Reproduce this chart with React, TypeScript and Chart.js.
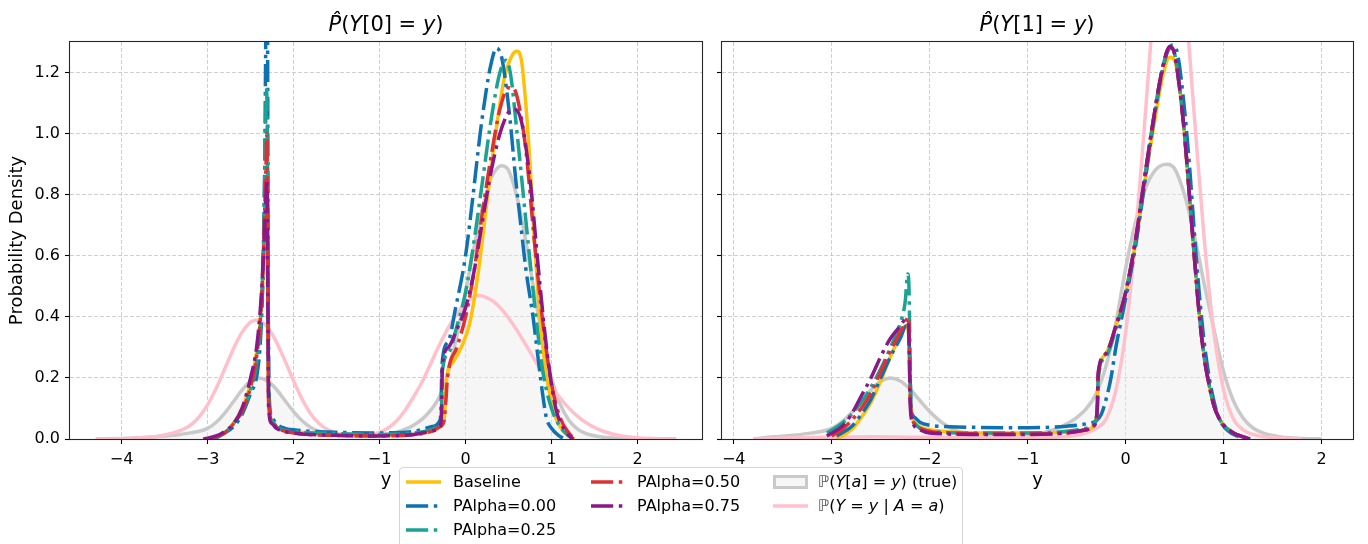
import React, { useEffect, useRef } from 'react';
import { Chart, registerables } from 'chart.js';

Chart.register(...registerables);

const FONT = "'DejaVu Sans', 'Liberation Sans', sans-serif";

// ---- axis ticks ----
const X_TICKS = [-4, -3, -2, -1, 0, 1, 2];
const Y_TICKS = [0, 0.2, 0.4, 0.6, 0.8, 1.0, 1.2];

// ---- series labels ----
const SERIES_LABELS = ['Baseline', 'PAlpha=0.00', 'PAlpha=0.25', 'PAlpha=0.50', 'PAlpha=0.75'];

// ---- true density P(Y[a]=y) ----
const true0X = [-4.3, -4.0, -3.8, -3.6, -3.4, -3.2, -3.0, -2.9, -2.8, -2.7, -2.6, -2.5, -2.4, -2.3, -2.2, -2.1, -2.0, -1.9, -1.8, -1.7, -1.6, -1.5, -1.3, -1.1, -0.9, -0.8, -0.7, -0.6, -0.5, -0.4, -0.3, -0.2, -0.1, 0.0, 0.1, 0.2, 0.3, 0.42, 0.5, 0.6, 0.7, 0.8, 0.9, 1.0, 1.1, 1.2, 1.3, 1.4, 1.6, 1.8, 2.0, 2.2, 2.45];
const true0Y = [0.0, 0.002, 0.004, 0.007, 0.012, 0.02, 0.035, 0.055, 0.085, 0.122, 0.16, 0.189, 0.2, 0.19, 0.163, 0.126, 0.09, 0.06, 0.038, 0.024, 0.016, 0.011, 0.009, 0.011, 0.016, 0.022, 0.032, 0.046, 0.066, 0.096, 0.14, 0.22, 0.34, 0.48, 0.63, 0.76, 0.855, 0.895, 0.88, 0.79, 0.65, 0.48, 0.33, 0.2, 0.115, 0.062, 0.033, 0.018, 0.006, 0.002, 0.0008, 0.0003, 0.0];
const true1X = [-3.8, -3.6, -3.4, -3.2, -3.0, -2.9, -2.8, -2.7, -2.6, -2.5, -2.4, -2.3, -2.2, -2.1, -2.0, -1.9, -1.8, -1.7, -1.6, -1.5, -1.3, -1.1, -0.9, -0.8, -0.7, -0.6, -0.5, -0.4, -0.3, -0.2, -0.1, 0.0, 0.1, 0.2, 0.3, 0.42, 0.5, 0.6, 0.7, 0.8, 0.9, 1.0, 1.1, 1.2, 1.3, 1.4, 1.6, 1.8, 2.0];
const true1Y = [0.0, 0.007, 0.012, 0.02, 0.035, 0.055, 0.085, 0.122, 0.16, 0.189, 0.2, 0.19, 0.163, 0.126, 0.09, 0.06, 0.038, 0.024, 0.016, 0.011, 0.009, 0.011, 0.017, 0.024, 0.035, 0.05, 0.07, 0.1, 0.15, 0.24, 0.38, 0.56, 0.71, 0.82, 0.88, 0.9, 0.885, 0.8, 0.67, 0.51, 0.36, 0.22, 0.125, 0.068, 0.036, 0.02, 0.006, 0.002, 0.0];

// ---- observed conditional P(Y=y | A=a) ----
const pink0X = [-4.3, -4.0, -3.8, -3.6, -3.4, -3.3, -3.2, -3.1, -3.0, -2.9, -2.8, -2.7, -2.6, -2.5, -2.43, -2.3, -2.2, -2.1, -2.0, -1.9, -1.8, -1.7, -1.6, -1.5, -1.4, -1.3, -1.2, -1.1, -1.0, -0.9, -0.8, -0.7, -0.6, -0.5, -0.4, -0.3, -0.2, -0.1, 0.0, 0.15, 0.3, 0.4, 0.5, 0.6, 0.7, 0.8, 0.9, 1.0, 1.1, 1.2, 1.3, 1.4, 1.5, 1.6, 1.8, 2.0, 2.2, 2.45];
const pink0Y = [0.0, 0.001, 0.003, 0.008, 0.02, 0.03, 0.045, 0.072, 0.112, 0.166, 0.23, 0.295, 0.349, 0.383, 0.39, 0.365, 0.318, 0.256, 0.191, 0.13, 0.082, 0.05, 0.03, 0.019, 0.013, 0.011, 0.011, 0.014, 0.022, 0.036, 0.06, 0.095, 0.14, 0.19, 0.25, 0.31, 0.365, 0.41, 0.445, 0.47, 0.455, 0.431, 0.396, 0.355, 0.309, 0.261, 0.215, 0.172, 0.134, 0.102, 0.075, 0.054, 0.0375, 0.0254, 0.0107, 0.0041, 0.0014, 0.0];
const pink1X = [-3.8, -3.4, -3.0, -2.6, -2.2, -1.8, -1.4, -1.0, -0.7, -0.5, -0.4, -0.3, -0.2, -0.1, 0.0, 0.1, 0.2, 0.3, 0.45, 0.6, 0.7, 0.8, 0.9, 1.0, 1.1, 1.2, 1.3, 1.4, 1.6, 1.8];
const pink1Y = [0.0, 0.004, 0.006, 0.007, 0.006, 0.005, 0.004, 0.004, 0.006, 0.012, 0.02, 0.035, 0.065, 0.16, 0.35, 0.66, 1.06, 1.46, 1.75, 1.46, 1.06, 0.66, 0.35, 0.16, 0.065, 0.03, 0.015, 0.008, 0.003, 0.0];

// ---- estimated densities, Y[0] ----
const base0X = [-2.95, -2.8, -2.7, -2.6, -2.5, -2.45, -2.4, -2.36, -2.33, -2.31, -2.3, -2.29, -2.25, -2.2, -2.1, -2.0, -1.8, -1.5, -1.0, -0.6, -0.4, -0.3, -0.25, -0.235, -0.22, -0.15, -0.05, 0.05, 0.15, 0.25, 0.35, 0.45, 0.55, 0.6, 0.65, 0.7, 0.75, 0.8, 0.85, 0.9, 0.95, 1.0, 1.05, 1.1, 1.2, 1.27];
const base0Y = [0.0, 0.02, 0.05, 0.1, 0.18, 0.25, 0.35, 0.5, 0.68, 0.72, 0.4, 0.12, 0.06, 0.04, 0.03, 0.025, 0.02, 0.015, 0.012, 0.015, 0.025, 0.04, 0.06, 0.12, 0.2, 0.25, 0.3, 0.38, 0.55, 0.78, 1.0, 1.18, 1.26, 1.27, 1.24, 1.1, 0.9, 0.65, 0.45, 0.3, 0.19, 0.12, 0.07, 0.04, 0.01, 0.0];
const pa000X = [-2.92, -2.8, -2.7, -2.6, -2.5, -2.42, -2.38, -2.35, -2.335, -2.32, -2.305, -2.295, -2.28, -2.25, -2.2, -2.1, -2.0, -1.5, -1.0, -0.6, -0.4, -0.3, -0.285, -0.275, -0.2, -0.115, 0.0, 0.08, 0.17, 0.24, 0.29, 0.36, 0.42, 0.47, 0.52, 0.58, 0.635, 0.7, 0.79, 0.85, 0.9, 0.94, 1.0, 1.08, 1.15];
const pa000Y = [0.0, 0.02, 0.04, 0.08, 0.15, 0.22, 0.35, 0.6, 0.9, 1.4, 1.5, 0.5, 0.12, 0.07, 0.05, 0.035, 0.03, 0.022, 0.02, 0.025, 0.04, 0.06, 0.1, 0.24, 0.32, 0.43, 0.6, 0.78, 1.0, 1.14, 1.22, 1.28, 1.25, 1.16, 1.04, 0.86, 0.72, 0.56, 0.39, 0.25, 0.14, 0.07, 0.035, 0.012, 0.0];
const pa025X = [-2.95, -2.8, -2.7, -2.6, -2.5, -2.43, -2.38, -2.35, -2.33, -2.315, -2.3, -2.29, -2.25, -2.2, -2.0, -1.5, -1.0, -0.6, -0.4, -0.3, -0.28, -0.27, -0.2, -0.1, 0.0, 0.1, 0.2, 0.3, 0.4, 0.47, 0.52, 0.6, 0.7, 0.8, 0.9, 1.0, 1.1, 1.2, 1.25];
const pa025Y = [0.0, 0.02, 0.05, 0.09, 0.16, 0.25, 0.4, 0.65, 0.95, 1.15, 0.8, 0.15, 0.06, 0.04, 0.025, 0.018, 0.015, 0.02, 0.03, 0.05, 0.08, 0.22, 0.28, 0.37, 0.48, 0.65, 0.85, 1.05, 1.2, 1.24, 1.2, 1.0, 0.72, 0.45, 0.22, 0.1, 0.04, 0.01, 0.0];
const pa050X = [-3.0, -2.8, -2.7, -2.6, -2.5, -2.43, -2.38, -2.35, -2.32, -2.31, -2.3, -2.29, -2.25, -2.2, -2.0, -1.5, -1.0, -0.6, -0.4, -0.3, -0.25, -0.23, -0.21, -0.1, 0.0, 0.1, 0.2, 0.3, 0.4, 0.5, 0.55, 0.6, 0.7, 0.8, 0.9, 1.0, 1.1, 1.2, 1.27];
const pa050Y = [0.0, 0.02, 0.05, 0.09, 0.17, 0.27, 0.42, 0.62, 0.9, 1.0, 0.6, 0.12, 0.06, 0.04, 0.02, 0.012, 0.01, 0.015, 0.025, 0.04, 0.06, 0.12, 0.2, 0.3, 0.4, 0.55, 0.75, 0.93, 1.08, 1.15, 1.15, 1.12, 0.95, 0.65, 0.38, 0.18, 0.07, 0.02, 0.0];
const pa075X = [-3.05, -2.9, -2.8, -2.7, -2.6, -2.5, -2.43, -2.38, -2.35, -2.32, -2.31, -2.3, -2.29, -2.25, -2.2, -2.0, -1.5, -1.0, -0.6, -0.4, -0.3, -0.28, -0.27, -0.2, -0.1, 0.0, 0.1, 0.2, 0.3, 0.4, 0.5, 0.57, 0.65, 0.75, 0.85, 0.95, 1.05, 1.15, 1.25];
const pa075Y = [0.0, 0.01, 0.025, 0.05, 0.1, 0.2, 0.3, 0.45, 0.6, 0.8, 0.85, 0.5, 0.1, 0.05, 0.035, 0.02, 0.012, 0.01, 0.015, 0.025, 0.04, 0.08, 0.24, 0.3, 0.36, 0.43, 0.55, 0.72, 0.88, 1.0, 1.07, 1.08, 1.04, 0.85, 0.55, 0.28, 0.1, 0.03, 0.0];

// ---- estimated densities, Y[1] ----
const base1X = [-2.95, -2.8, -2.7, -2.6, -2.5, -2.4, -2.3, -2.25, -2.23, -2.21, -2.2, -2.18, -2.1, -2.0, -1.5, -1.0, -0.6, -0.4, -0.32, -0.29, -0.28, -0.2, -0.1, 0.0, 0.1, 0.2, 0.3, 0.38, 0.45, 0.5, 0.55, 0.6, 0.65, 0.7, 0.75, 0.8, 0.85, 0.9, 0.95, 1.0, 1.1, 1.2, 1.27];
const base1Y = [0.0, 0.03, 0.07, 0.12, 0.19, 0.27, 0.34, 0.37, 0.37, 0.3, 0.15, 0.08, 0.04, 0.03, 0.02, 0.02, 0.022, 0.03, 0.045, 0.1, 0.2, 0.28, 0.37, 0.48, 0.64, 0.85, 1.05, 1.19, 1.25, 1.24, 1.15, 1.0, 0.8, 0.6, 0.42, 0.28, 0.18, 0.11, 0.07, 0.045, 0.02, 0.007, 0.0];
const pa100X = [-2.95, -2.8, -2.7, -2.6, -2.5, -2.4, -2.3, -2.24, -2.215, -2.2, -2.19, -2.15, -2.1, -2.0, -1.8, -1.5, -1.0, -0.6, -0.4, -0.3, -0.25, -0.2, -0.15, -0.1, 0.0, 0.1, 0.2, 0.3, 0.4, 0.48, 0.53, 0.6, 0.65, 0.7, 0.75, 0.8, 0.87, 0.95, 1.05, 1.15, 1.25];
const pa100Y = [0.01, 0.04, 0.08, 0.13, 0.2, 0.27, 0.33, 0.37, 0.36, 0.2, 0.1, 0.07, 0.055, 0.045, 0.04, 0.038, 0.037, 0.042, 0.05, 0.06, 0.08, 0.13, 0.2, 0.3, 0.46, 0.63, 0.85, 1.07, 1.24, 1.29, 1.26, 1.08, 0.9, 0.68, 0.48, 0.32, 0.17, 0.07, 0.025, 0.008, 0.0];
const pa125X = [-3.05, -2.9, -2.8, -2.7, -2.6, -2.5, -2.4, -2.3, -2.25, -2.225, -2.212, -2.2, -2.19, -2.15, -2.1, -2.0, -1.5, -1.0, -0.6, -0.4, -0.32, -0.29, -0.28, -0.2, -0.1, 0.0, 0.1, 0.2, 0.3, 0.38, 0.45, 0.5, 0.55, 0.6, 0.65, 0.7, 0.75, 0.8, 0.85, 0.9, 0.95, 1.0, 1.1, 1.2, 1.27];
const pa125Y = [0.02, 0.05, 0.08, 0.12, 0.17, 0.23, 0.3, 0.38, 0.45, 0.54, 0.5, 0.25, 0.1, 0.05, 0.035, 0.025, 0.02, 0.02, 0.025, 0.035, 0.05, 0.1, 0.2, 0.27, 0.36, 0.48, 0.65, 0.87, 1.08, 1.22, 1.28, 1.26, 1.15, 1.0, 0.8, 0.6, 0.41, 0.27, 0.18, 0.11, 0.07, 0.045, 0.02, 0.007, 0.0];
const pa150X = [-3.0, -2.9, -2.8, -2.7, -2.6, -2.5, -2.4, -2.3, -2.25, -2.22, -2.21, -2.2, -2.18, -2.1, -2.0, -1.5, -1.0, -0.6, -0.4, -0.32, -0.29, -0.28, -0.2, -0.1, 0.0, 0.1, 0.2, 0.3, 0.38, 0.45, 0.5, 0.55, 0.6, 0.65, 0.7, 0.75, 0.8, 0.85, 0.9, 0.95, 1.0, 1.1, 1.2, 1.27];
const pa150Y = [0.01, 0.03, 0.06, 0.1, 0.15, 0.22, 0.29, 0.35, 0.38, 0.4, 0.35, 0.15, 0.07, 0.035, 0.025, 0.017, 0.016, 0.02, 0.03, 0.045, 0.1, 0.21, 0.28, 0.37, 0.48, 0.65, 0.87, 1.08, 1.22, 1.285, 1.26, 1.15, 1.0, 0.8, 0.6, 0.41, 0.27, 0.18, 0.11, 0.07, 0.045, 0.02, 0.007, 0.0];
const pa175X = [-3.05, -2.9, -2.8, -2.7, -2.6, -2.5, -2.4, -2.3, -2.25, -2.22, -2.21, -2.2, -2.18, -2.1, -2.0, -1.5, -1.0, -0.6, -0.4, -0.32, -0.29, -0.28, -0.2, -0.1, 0.0, 0.1, 0.2, 0.3, 0.38, 0.45, 0.5, 0.55, 0.6, 0.65, 0.7, 0.75, 0.8, 0.85, 0.9, 0.95, 1.0, 1.1, 1.2, 1.27];
const pa175Y = [0.01, 0.04, 0.08, 0.14, 0.2, 0.27, 0.33, 0.37, 0.39, 0.38, 0.3, 0.12, 0.06, 0.03, 0.02, 0.015, 0.015, 0.02, 0.03, 0.045, 0.1, 0.22, 0.28, 0.37, 0.48, 0.65, 0.87, 1.08, 1.22, 1.285, 1.26, 1.15, 1.0, 0.8, 0.6, 0.41, 0.27, 0.18, 0.11, 0.07, 0.045, 0.02, 0.007, 0.0];

// ---- styling ----
const SERIES_COLORS = ['#FFC107', '#0F72B0', '#1AA392', '#DE3131', '#8A1889'];
const TRUE_LINE = '#C9C9C9';
const TRUE_FILL = 'rgba(236, 236, 236, 0.45)';
const PINK = '#FFC0CB';
const LINE_W = 3.5;
const DASH_DOT = [22.2, 5.6, 3.5, 5.6];

const pts = (xs: number[], ys: number[]) => xs.map((x, i) => ({ x, y: ys[i] }));

const framePlugin = {
  id: 'axesFrame',
  afterDatasetsDraw(chart: any) {
    const { ctx, chartArea: a } = chart;
    ctx.save();
    ctx.strokeStyle = '#262626';
    ctx.lineWidth = 1.1;
    const l = Math.round(a.left) - 0.5;
    const t = Math.round(a.top) - 0.5;
    const r = Math.round(a.right) + 0.5;
    const b = Math.round(a.bottom) + 0.5;
    ctx.strokeRect(l, t, r - l, b - t);
    ctx.restore();
  },
};

type PanelSpec = {
  xMin: number;
  xMax: number;
  yAxisWidth: number;
  padRight: number;
  showYLabels: boolean;
  trueX: number[];
  trueY: number[];
  pinkX: number[];
  pinkY: number[];
  modelX: number[][];
  modelY: number[][];
};

function makeConfig(p: PanelSpec): any {
  const lineBase = {
    pointRadius: 0,
    borderWidth: LINE_W,
    cubicInterpolationMode: 'monotone',
    borderCapStyle: 'butt',
    borderJoinStyle: 'round',
    clip: 0,
    fill: false,
  };
  const datasets: any[] = [
    {
      ...lineBase,
      label: 'true',
      data: pts(p.trueX, p.trueY),
      borderColor: TRUE_LINE,
      backgroundColor: TRUE_FILL,
      fill: 'origin',
      order: 10,
    },
    {
      ...lineBase,
      label: 'conditional',
      data: pts(p.pinkX, p.pinkY),
      borderColor: PINK,
      order: 9,
    },
  ];
  p.modelX.forEach((xs, i) => {
    datasets.push({
      ...lineBase,
      label: SERIES_LABELS[i],
      data: pts(xs, p.modelY[i]),
      borderColor: SERIES_COLORS[i],
      borderDash: i === 0 ? [] : DASH_DOT,
      order: 5 - i,
    });
  });

  const tickFont = { family: FONT, size: 16 };
  const gridCommon = {
    color: '#C4C4C4',
    lineWidth: 0.8,
    drawTicks: true,
    tickLength: 5,
    tickColor: '#000',
    tickWidth: 1.1,
  };

  return {
    type: 'line',
    data: { datasets },
    options: {
      animation: false,
      responsive: false,
      devicePixelRatio: 1,
      events: [],
      layout: { padding: { left: 0, right: p.padRight, top: 42, bottom: 0 } },
      plugins: { legend: { display: false }, tooltip: { enabled: false }, title: { display: false } },
      scales: {
        x: {
          type: 'linear',
          position: 'bottom',
          min: p.xMin,
          max: p.xMax,
          afterBuildTicks: (s: any) => {
            s.ticks = X_TICKS.map((v) => ({ value: v }));
          },
          afterFit: (s: any) => {
            s.height = 105;
          },
          ticks: {
            font: tickFont,
            color: '#000',
            padding: 6,
            maxRotation: 0,
            autoSkip: false,
            callback: (v: number) => (v < 0 ? '\u2212' + Math.abs(v) : String(v)),
          },
          grid: gridCommon,
          border: { display: false, dash: [4, 2] },
          title: {
            display: true,
            text: 'y',
            font: { family: FONT, size: 18 },
            color: '#000',
            padding: { top: 0, bottom: 53 },
          },
        },
        y: {
          type: 'linear',
          min: 0,
          max: 1.3,
          afterBuildTicks: (s: any) => {
            s.ticks = Y_TICKS.map((v) => ({ value: v }));
          },
          afterFit: (s: any) => {
            s.width = p.yAxisWidth;
          },
          ticks: {
            font: tickFont,
            color: '#000',
            padding: 5,
            autoSkip: false,
            callback: (v: number) => (p.showYLabels ? v.toFixed(1) : ''),
          },
          grid: gridCommon,
          border: { display: false, dash: [4, 2] },
          title: {
            display: p.showYLabels,
            text: 'Probability Density',
            font: { family: FONT, size: 18 },
            color: '#000',
            padding: { top: 7, bottom: 0 },
          },
        },
      },
    },
    plugins: [framePlugin],
  };
}

const PANEL0: PanelSpec = {
  xMin: -4.6,
  xMax: 2.75,
  yAxisWidth: 70,
  padRight: 10,
  showYLabels: true,
  trueX: true0X,
  trueY: true0Y,
  pinkX: pink0X,
  pinkY: pink0Y,
  modelX: [base0X, pa000X, pa025X, pa050X, pa075X],
  modelY: [base0Y, pa000Y, pa025Y, pa050Y, pa075Y],
};

const PANEL1: PanelSpec = {
  xMin: -4.12,
  xMax: 2.32,
  yAxisWidth: 10,
  padRight: 15,
  showYLabels: false,
  trueX: true1X,
  trueY: true1Y,
  pinkX: pink1X,
  pinkY: pink1Y,
  modelX: [base1X, pa100X, pa125X, pa150X, pa175X],
  modelY: [base1Y, pa100Y, pa125Y, pa150Y, pa175Y],
};

function LineHandle({ color, dashed }: { color: string; dashed: boolean }) {
  return (
    <svg width={36} height={10} style={{ display: 'block' }}>
      <line
        x1={0}
        y1={5}
        x2={35}
        y2={5}
        stroke={color}
        strokeWidth={LINE_W}
        strokeDasharray={dashed ? DASH_DOT.join(' ') : undefined}
      />
    </svg>
  );
}

function Title({ cx, idx }: { cx: number; idx: string }) {
  return (
    <div
      style={{
        position: 'absolute',
        left: cx - 150,
        width: 300,
        top: 10,
        lineHeight: '28px',
        fontSize: 21,
        textAlign: 'center',
        color: '#000',
        whiteSpace: 'nowrap',
      }}
    >
      <i>P&#770;</i>(<i>Y</i>[{idx}] = <i>y</i>)
    </div>
  );
}

export default function App() {
  const leftRef = useRef<HTMLCanvasElement>(null);
  const rightRef = useRef<HTMLCanvasElement>(null);

  useEffect(() => {
    const c0 = new Chart(leftRef.current as HTMLCanvasElement, makeConfig(PANEL0));
    const c1 = new Chart(rightRef.current as HTMLCanvasElement, makeConfig(PANEL1));
    return () => {
      c0.destroy();
      c1.destroy();
    };
  }, []);

  const rowY = [482, 506, 530];
  const textStyle: React.CSSProperties = {
    position: 'absolute',
    fontSize: 16,
    lineHeight: '20px',
    color: '#000',
    whiteSpace: 'nowrap',
  };
  const handle = (x: number, y: number, node: React.ReactNode, key: string) => (
    <div key={key} style={{ position: 'absolute', left: x, top: y - 5, width: 36, height: 10 }}>
      {node}
    </div>
  );
  const label = (x: number, y: number, node: React.ReactNode, key: string) => (
    <div key={key} style={{ ...textStyle, left: x, top: y - 10 }}>
      {node}
    </div>
  );

  return (
    <div
      style={{
        position: 'fixed',
        left: 0,
        top: 0,
        width: 1368,
        height: 544,
        background: '#fff',
        overflow: 'hidden',
        fontFamily: FONT,
      }}
    >
      <canvas ref={leftRef} width={712} height={544} style={{ position: 'absolute', left: 0, top: 0 }} />
      <canvas ref={rightRef} width={656} height={544} style={{ position: 'absolute', left: 712, top: 0 }} />
      <Title cx={386} idx="0" />
      <Title cx={1037} idx="1" />

      <div
        style={{
          position: 'absolute',
          left: 399,
          top: 467,
          width: 564,
          height: 100,
          border: '1px solid #D5D5D5',
          borderRadius: 4,
          background: 'rgba(255,255,255,0.85)',
          boxSizing: 'border-box',
        }}
      />
      {handle(406, rowY[0], <LineHandle color={SERIES_COLORS[0]} dashed={false} />, 'h0')}
      {handle(406, rowY[1], <LineHandle color={SERIES_COLORS[1]} dashed />, 'h1')}
      {handle(406, rowY[2], <LineHandle color={SERIES_COLORS[2]} dashed />, 'h2')}
      {handle(591, rowY[0], <LineHandle color={SERIES_COLORS[3]} dashed />, 'h3')}
      {handle(591, rowY[1], <LineHandle color={SERIES_COLORS[4]} dashed />, 'h4')}
      {label(453, rowY[0], SERIES_LABELS[0], 't0')}
      {label(453, rowY[1], SERIES_LABELS[1], 't1')}
      {label(453, rowY[2], SERIES_LABELS[2], 't2')}
      {label(637, rowY[0], SERIES_LABELS[3], 't3')}
      {label(637, rowY[1], SERIES_LABELS[4], 't4')}
      <div
        style={{
          position: 'absolute',
          left: 773,
          top: rowY[0] - 7,
          width: 35,
          height: 14,
          border: `3px solid ${TRUE_LINE}`,
          background: '#F6F6F6',
          boxSizing: 'border-box',
        }}
      />
      {handle(773, rowY[1], <LineHandle color={PINK} dashed={false} />, 'h6')}
      {label(
        818,
        rowY[0],
        <span>
          <span style={{ color: '#555' }}>ℙ</span>(<i>Y</i>[<i>a</i>] = <i>y</i>) (true)
        </span>,
        't5'
      )}
      {label(
        818,
        rowY[1],
        <span>
          <span style={{ color: '#555' }}>ℙ</span>(<i>Y</i> = <i>y</i> | <i>A</i> = <i>a</i>)
        </span>,
        't6'
      )}
    </div>
  );
}
